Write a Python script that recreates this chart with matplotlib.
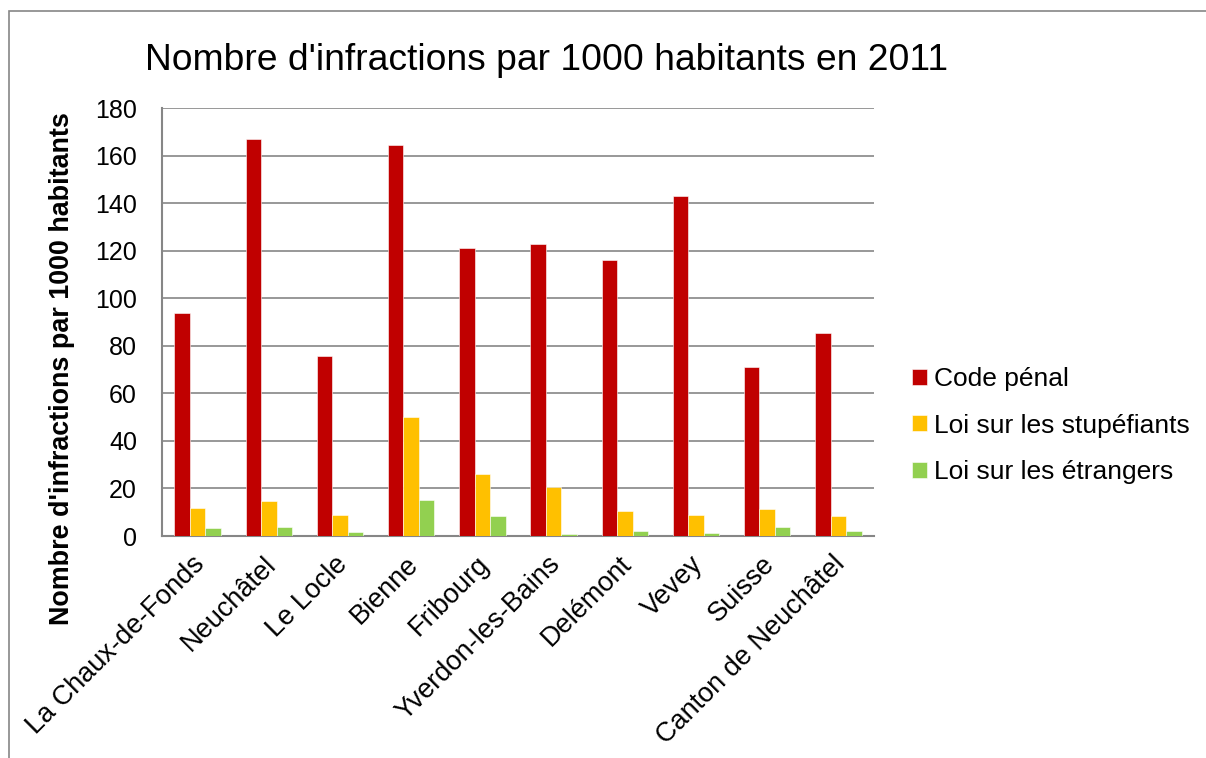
import matplotlib
matplotlib.use("Agg")
import matplotlib.pyplot as plt
import matplotlib.transforms as mtransforms
import numpy as np
from matplotlib.patches import Rectangle

categories = ["La Chaux-de-Fonds", "Neuchâtel", "Le Locle", "Bienne", "Fribourg",
              "Yverdon-les-Bains", "Delémont", "Vevey", "Suisse", "Canton de Neuchâtel"]
code_penal = [93.8, 167.0, 75.6, 164.4, 121.0, 122.8, 116.0, 143.0, 71.0, 85.4]
stupefiants = [11.7, 14.8, 8.9, 50.2, 26.2, 20.4, 10.5, 8.7, 11.4, 8.4]
etrangers = [3.5, 3.8, 1.7, 15.1, 8.3, 0.8, 2.1, 1.3, 3.8, 2.1]
series_names = ["Code pénal", "Loi sur les stupéfiants", "Loi sur les étrangers"]
colors = ["#C00000", "#FFC000", "#92D050"]
yticks = [0, 20, 40, 60, 80, 100, 120, 140, 160, 180]

plt.rcParams['font.family'] = ['Liberation Sans', 'DejaVu Sans']

W, H = 1206, 758
fig = plt.figure(figsize=(W / 100, H / 100), dpi=100)
fig.patch.set_facecolor("white")

# outer chart frame (cut at right/bottom)
fig.patches.append(Rectangle((9 / W, -0.05), 1.1, 1 - 11 / H + 0.05, transform=fig.transFigure,
                             fill=False, edgecolor="#868686", linewidth=1.2))

ax = fig.add_axes([162 / W, 1 - 536 / H, (874 - 162) / W, (536 - 108) / H])
x = np.arange(len(categories))
w = 0.218
for i, (vals, name, c) in enumerate(zip([code_penal, stupefiants, etrangers], series_names, colors)):
    ax.bar(x + (i - 1) * w, vals, width=w, color=c, label=name, zorder=3,
           edgecolor="white", linewidth=0.4)

ax.set_xlim(-0.5, len(categories) - 0.5)
ax.set_ylim(0, 180)
ax.set_yticks(yticks)
ax.set_yticklabels([str(t) for t in yticks], fontsize=18)
ax.yaxis.grid(True, color="#868686", linewidth=1.2, zorder=0)
ax.set_axisbelow(True)
ax.tick_params(axis="y", length=0, pad=18)
ax.set_xticks(x)
ax.set_xticklabels(categories, rotation=45, ha="right", va="top",
                   rotation_mode="anchor", fontsize=19.5)
ax.tick_params(axis="x", length=0, pad=11)
offset = mtransforms.ScaledTranslation(-0.06, 0, fig.dpi_scale_trans)
for lab in ax.get_xticklabels():
    lab.set_transform(lab.get_transform() + offset)
for s in ["top", "right"]:
    ax.spines[s].set_visible(False)
for s in ["left", "bottom"]:
    ax.spines[s].set_color("#868686")
    ax.spines[s].set_linewidth(1.5)

fig.text(62 / W, 1 - 369 / H, "Nombre d'infractions par 1000 habitants",
         fontsize=19.4, fontweight="bold", rotation=90, ha="center", va="center")

fig.text(546.5 / W, 1 - 60 / H, "Nombre d'infractions par 1000 habitants en 2011",
         fontsize=26.8, ha="center", va="center")

handles, labels = ax.get_legend_handles_labels()
fig.legend(handles, labels, loc="upper left", bbox_to_anchor=(912 / W, 1 - 367 / H),
           frameon=False, fontsize=19, handlelength=0.55, handleheight=0.55,
           handletextpad=0.3, labelspacing=0.86, borderpad=0, borderaxespad=0)

fig.savefig("out.png", dpi=100)
